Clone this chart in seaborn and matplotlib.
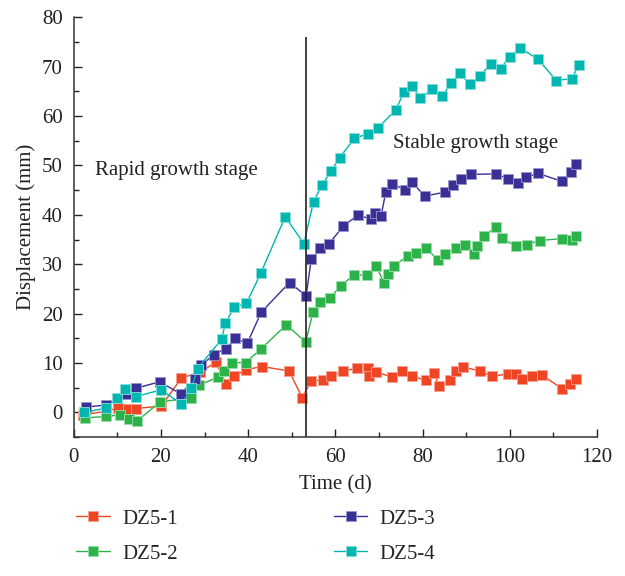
import numpy as np
import pandas as pd
import matplotlib
matplotlib.use("Agg")
import matplotlib.pyplot as plt
import seaborn as sns

# ---- data ----
series_names = ["DZ5-1", "DZ5-2", "DZ5-3", "DZ5-4"]

dz1_days = [2.2, 7.5, 10.2, 12.5, 14.2, 20.1, 24.7, 28.9, 32.6, 35.0, 36.8, 39.6, 43.2, 49.4, 52.4,
            54.5, 57.2, 59.1, 61.8, 65.0, 67.4, 67.8, 69.3, 72.9, 75.4, 77.7, 80.9, 82.6, 83.8, 86.4,
            87.6, 89.4, 93.1, 95.9, 99.6, 101.5, 102.9, 105.1, 107.3, 112.1, 113.9, 115.1]
dz1_vals = [-0.5, 0.3, 0.9, 0.8, 0.8, 1.3, 7.0, 8.1, 10.2, 5.7, 7.4, 8.7, 9.3, 8.4, 3.0,
            6.4, 6.6, 7.4, 8.3, 9.0, 9.1, 7.3, 8.2, 7.2, 8.4, 7.3, 6.5, 8.0, 5.4, 6.5,
            8.4, 9.2, 8.4, 7.3, 7.8, 7.8, 6.8, 7.3, 7.6, 4.8, 5.8, 6.8]

dz2_days = [2.5, 7.5, 10.5, 12.7, 14.6, 19.7, 26.8, 28.7, 33.2, 34.4, 36.3, 39.4, 42.9, 48.8, 53.2,
            54.9, 56.4, 58.7, 61.2, 64.2, 67.3, 69.4, 71.2, 72.2, 73.4, 76.7, 78.6, 80.9, 83.6, 85.1,
            87.6, 89.7, 91.8, 92.6, 94.1, 96.8, 98.3, 101.4, 104.0, 106.9, 111.9, 114.4, 115.3]
dz2_vals = [-1.1, -0.8, -0.5, -1.3, -1.7, 2.1, 3.0, 5.5, 7.2, 8.4, 10.1, 10.1, 12.8, 17.8, 14.2,
            20.4, 22.4, 23.1, 25.6, 27.8, 27.9, 29.6, 26.2, 28.1, 29.7, 31.7, 32.2, 33.2, 30.8, 32.0,
            33.2, 34.0, 32.0, 33.8, 35.7, 37.5, 35.3, 33.6, 34.0, 34.8, 35.2, 35.0, 35.7]

dz3_days = [2.8, 7.3, 12.1, 14.2, 19.7, 24.5, 27.8, 29.3, 32.1, 34.9, 37.1, 39.8, 43.0, 49.5, 53.3,
            54.5, 56.6, 58.6, 61.8, 65.1, 68.2, 69.2, 70.5, 71.6, 72.9, 76.1, 77.6, 80.5, 85.1, 87.0,
            88.8, 91.2, 96.8, 99.6, 101.9, 103.8, 106.5, 111.9, 114.1, 115.3]
dz3_vals = [1.1, 1.5, 3.7, 4.9, 6.2, 3.8, 6.7, 9.6, 11.7, 12.9, 15.0, 14.0, 20.3, 26.3, 23.6,
            31.1, 33.2, 34.2, 37.7, 39.9, 39.2, 40.3, 39.8, 44.7, 46.3, 45.1, 46.6, 43.8, 44.6, 46.1,
            47.3, 48.2, 48.3, 47.3, 46.5, 47.6, 48.4, 46.8, 48.7, 50.3]

dz4_days = [2.3, 7.5, 9.9, 11.7, 14.2, 20.1, 24.7, 27.0, 28.4, 33.9, 34.8, 36.8, 39.6, 42.9, 48.5, 52.8,
            55.0, 57.0, 59.0, 61.0, 64.4, 67.4, 69.7, 73.9, 75.7, 77.7, 79.4, 82.2, 84.5, 86.5,
            88.5, 90.8, 93.3, 95.6, 97.9, 100.0, 102.4, 106.5, 110.7, 114.3, 115.8]
dz4_vals = [0.0, 0.9, 2.9, 4.7, 3.2, 4.6, 1.7, 4.9, 8.9, 14.8, 18.1, 21.3, 22.1, 28.2, 39.6, 34.2,
            42.7, 46.1, 48.8, 51.6, 55.5, 56.4, 57.5, 61.3, 64.8, 66.1, 63.6, 65.4, 64.0, 66.6,
            68.8, 66.4, 68.2, 70.6, 69.6, 72.0, 73.8, 71.5, 67.2, 67.6, 70.3]

stage_boundary_day = 53.2
stage_labels = ["Rapid growth stage", "Stable growth stage"]

colors = ["#EE4524", "#2DB24A", "#3A2F95", "#00B6B0"]
edge_colors = ["#F7A090", "#9ADDA8", "#9A94D0", "#8ADDD9"]

# ---- plotting ----
sns.set_style("ticks")
plt.rcParams["font.family"] = ["Liberation Serif", "DejaVu Serif"]

fig = plt.figure(figsize=(6.25, 5.76), dpi=100)
ax = fig.add_axes([0.118, 0.241, 0.837, 0.729])

all_days = [dz1_days, dz2_days, dz3_days, dz4_days]
all_vals = [dz1_vals, dz2_vals, dz3_vals, dz4_vals]

for name, d, v, c, ec in zip(series_names, all_days, all_vals, colors, edge_colors):
    df = pd.DataFrame({"Time": d, "Displacement": v})
    sns.lineplot(data=df, x="Time", y="Displacement", ax=ax, sort=False, estimator=None,
                 color=c, marker="s", markersize=7, markeredgecolor=ec, markeredgewidth=0.6,
                 linewidth=1.0, label=name)

ax.vlines(stage_boundary_day, -5, 76, color="#222222", linewidth=1.2)

ax.text(4.8, 49.0, stage_labels[0], fontsize=15, va="center", ha="left", color="#222222")
ax.text(73.2, 54.5, stage_labels[1], fontsize=15, va="center", ha="left", color="#222222")

ax.set_xlim(0, 120)
ax.set_ylim(-5, 80)
ax.set_xticks(np.arange(0, 121, 20))
ax.set_xticks(np.arange(0, 121, 10), minor=True)
ax.set_yticks(np.arange(0, 81, 10))
ax.set_yticks(np.arange(-5, 81, 5), minor=True)
ax.tick_params(axis="both", which="major", direction="in", length=6, width=1,
               labelsize=15, colors="#222222", pad=8)
ax.tick_params(axis="both", which="minor", direction="in", length=3.5, width=1, colors="#222222")
for s in ["top", "right"]:
    ax.spines[s].set_visible(False)
for s in ["left", "bottom"]:
    ax.spines[s].set_color("#333333")
    ax.spines[s].set_linewidth(1.1)

ax.set_xlabel("Time (d)", fontsize=15, color="#222222", labelpad=6)
ax.set_ylabel("Displacement (mm)", fontsize=15, color="#222222", labelpad=4)

handles, labels = ax.get_legend_handles_labels()
ax.legend(handles, labels, ncol=2, frameon=False, fontsize=15,
          loc="upper left", bbox_to_anchor=(0.092, 0.149), bbox_transform=fig.transFigure,
          columnspacing=7.5, handlelength=1.6, handletextpad=0.6, labelspacing=0.75)

fig.savefig("out.png", dpi=100)
